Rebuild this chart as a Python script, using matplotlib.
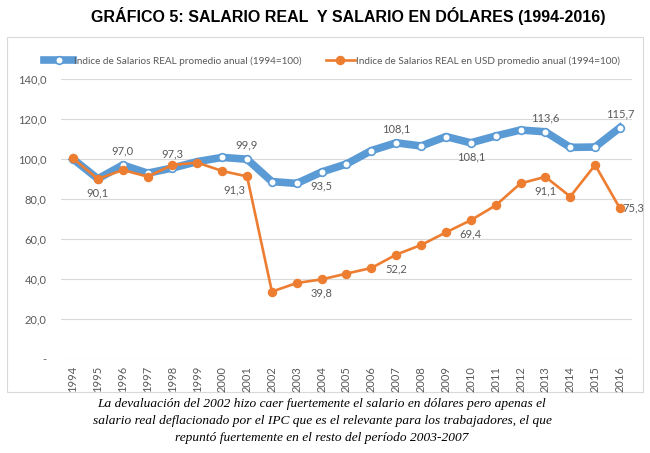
import matplotlib.pyplot as plt
from matplotlib.patches import Rectangle

years = list(range(1994, 2017))
real = [100.0, 90.1, 97.0, 92.9, 95.5, 98.7, 100.8, 99.9, 88.7, 87.8, 93.5, 97.5,
        104.2, 108.1, 106.5, 111.2, 108.1, 111.5, 114.5, 113.6, 105.8, 106.0, 115.7]
usd = [100.3, 90.0, 94.5, 91.2, 97.0, 98.2, 94.0, 91.3, 33.7, 38.0, 39.8, 42.7,
       45.5, 52.2, 57.0, 63.3, 69.4, 76.8, 87.8, 91.1, 81.2, 97.0, 75.3]

real_label = 'Indice de Salarios REAL promedio anual (1994=100)'
usd_label = 'Indice de Salarios REAL en USD promedio anual (1994=100)'

# etiquetas visibles en el grafico: (año, texto, posicion)
labels_real = [(1995, '90,1', 'below'), (1996, '97,0', 'above'), (1998, '97,3', 'above'),
               (2001, '99,9', 'above'), (2004, '93,5', 'below'), (2007, '108,1', 'above'),
               (2010, '108,1', 'below'), (2013, '113,6', 'above'), (2016, '115,7', 'above')]
labels_usd = [(2001, '91,3', 'belowleft'), (2004, '39,8', 'below'), (2007, '52,2', 'below'),
              (2010, '69,4', 'below'), (2013, '91,1', 'below'), (2016, '75,3', 'right')]

blue = '#5B9BD5'
orange = '#ED7D31'
gray = '#595959'

W, H = 650, 453
plt.rcParams['font.family'] = ['Lato', 'DejaVu Sans']
fig = plt.figure(figsize=(W / 100, H / 100), dpi=100)

# marco del grafico
fig.patches.append(Rectangle((7 / W, 1 - 392 / H), 636 / W, 355 / H, transform=fig.transFigure,
                             facecolor='white', edgecolor='#D9D9D9', lw=0.8, zorder=-5))

ax = fig.add_axes([60.6 / W, 1 - 359 / H, 571.8 / W, 280 / H])
ax.set_facecolor('none')

ax.plot(years, real, color=blue, lw=5.5, marker='o', ms=5.5, mfc='white', mec=blue,
        mew=1.2, label=real_label, zorder=3, solid_joinstyle='round')
ax.plot(years, usd, color=orange, lw=1.9, marker='o', ms=5.8, mfc=orange, mec=orange,
        label=usd_label, zorder=4)

ax.set_xlim(1993.5, 2016.5)
ax.set_ylim(0, 140)
ax.set_yticks(range(0, 141, 20))
ax.set_yticklabels(['-'] + ['%d,0' % v for v in range(20, 141, 20)])
ax.set_xticks(years)
ax.set_xticklabels([str(y) for y in years], rotation=90)
ax.tick_params(axis='both', length=0, labelsize=8, colors=gray)
ax.tick_params(axis='y', pad=10)
ax.tick_params(axis='x', pad=5)
ax.grid(axis='y', color='#D9D9D9', lw=0.8)
for s in ax.spines.values():
    s.set_visible(False)

def put(vals, items):
    for yr, txt, pos in items:
        v = vals[years.index(yr)]
        if pos == 'above':
            ax.annotate(txt, (yr, v), xytext=(0, 6), textcoords='offset points',
                        ha='center', va='bottom', fontsize=8, color=gray)
        elif pos == 'below':
            ax.annotate(txt, (yr, v), xytext=(0, -6), textcoords='offset points',
                        ha='center', va='top', fontsize=8, color=gray)
        elif pos == 'belowleft':
            ax.annotate(txt, (yr, v), xytext=(-9, -6), textcoords='offset points',
                        ha='center', va='top', fontsize=8, color=gray)
        else:
            ax.annotate(txt, (yr, v), xytext=(2, 0), textcoords='offset points',
                        ha='left', va='center', fontsize=8, color=gray)

put(real, labels_real)
put(usd, labels_usd)

fig.legend(loc='center', bbox_to_anchor=(332 / W, 1 - 61 / H), ncol=2, frameon=False,
           fontsize=7.2, labelcolor=gray, handlelength=2.9, handletextpad=0.1,
           columnspacing=2.4)

fig.text(348 / W, 1 - 16 / H, 'GRÁFICO 5: SALARIO REAL  Y SALARIO EN DÓLARES (1994-2016)',
         ha='center', va='center', fontsize=11.5, fontweight='bold',
         family='Liberation Sans')

caption = ('La devaluación del 2002 hizo caer fuertemente el salario en dólares pero apenas el\n'
           'salario real deflacionado por el IPC que es el relevante para los trabajadores, el que\n'
           'repuntó fuertemente en el resto del período 2003-2007')
fig.text(322 / W, 1 - 421 / H, caption, ha='center', va='center', fontsize=9.6,
         style='italic', family='Liberation Serif', linespacing=1.55)

fig.savefig('out.png', dpi=100)
